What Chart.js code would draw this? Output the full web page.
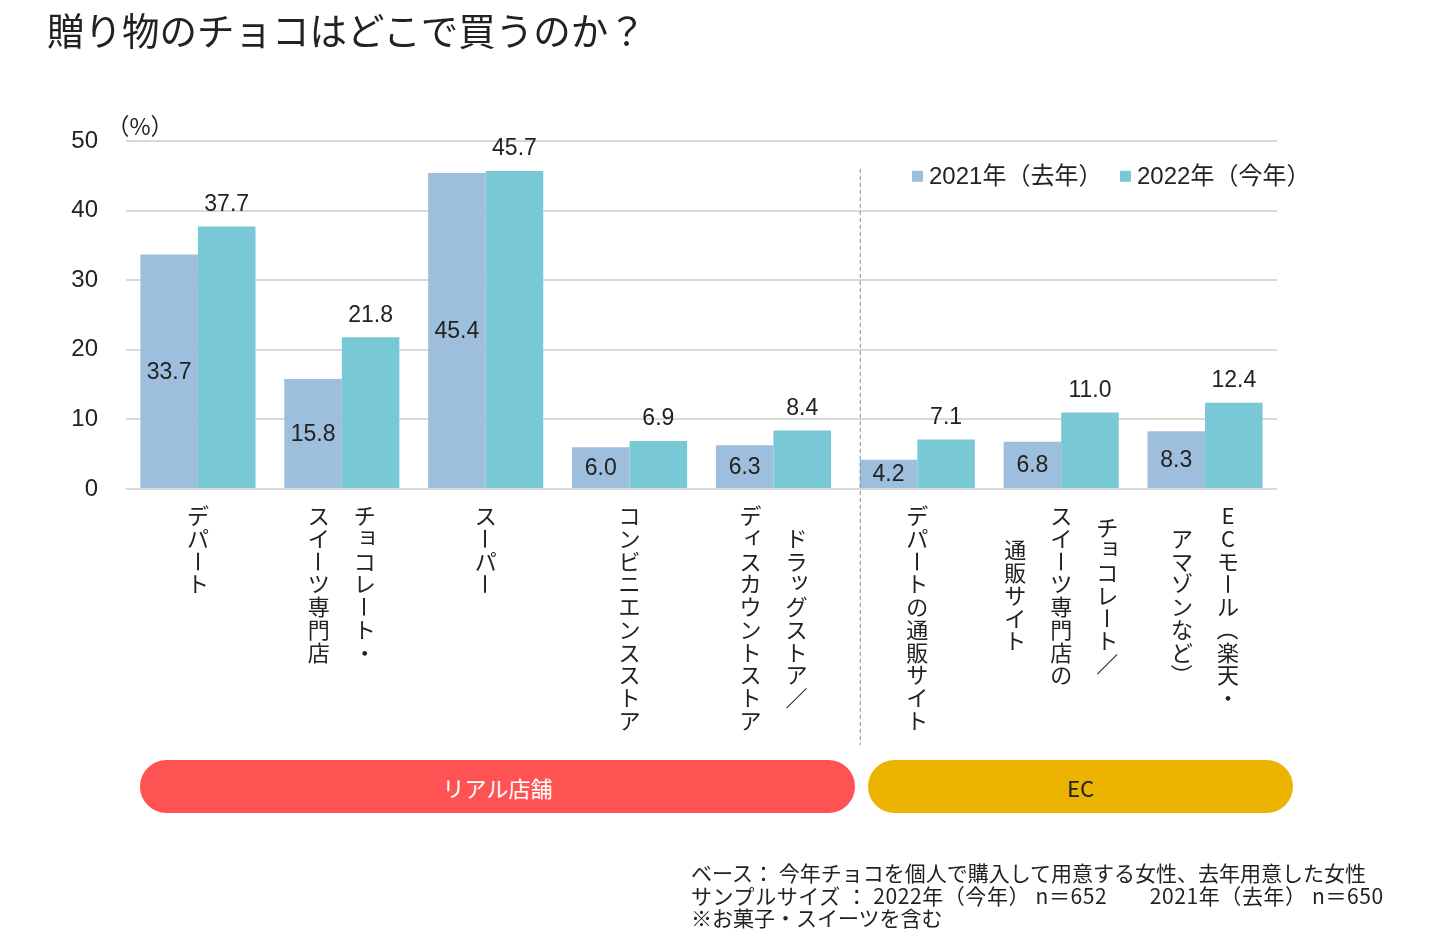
<!DOCTYPE html>
<html lang="ja">
<head>
<meta charset="utf-8">
<title>贈り物のチョコはどこで買うのか？</title>
<script src="https://cdn.jsdelivr.net/npm/chart.js@4/dist/chart.umd.min.js"></script>
<style>
  body { margin: 0; background: #fff; font-family: 'Liberation Sans', 'Noto Sans CJK JP', sans-serif; color: #222; }
  #wrap { position: relative; width: 1445px; height: 948px; overflow: hidden; }
  #chart { position: absolute; left: 0; top: 0; }
  #title { position: absolute; left: 47px; top: 6px; font-size: 37.5px; line-height: 46px; font-family: 'Noto Sans CJK JP', sans-serif; }
  .pill { position: absolute; top: 760px; height: 53px; border-radius: 27px; display: flex; align-items: center; justify-content: center; font-size: 22px; font-family: 'Noto Sans CJK JP', sans-serif; }
  #real { left: 140px; width: 715px; background: #ff5252; color: #fff; }
  #ec { left: 868px; width: 425px; background: #ecb400; color: #222; }
  #note { position: absolute; left: 691px; top: 861px; font-size: 21px; line-height: 22.5px; white-space: pre; font-family: 'Noto Sans CJK JP', sans-serif; }
  #note .wide { letter-spacing: 0.6px; }
</style>
</head>
<body>
<div id="wrap">
  <canvas id="chart" width="1445" height="948"></canvas>
  <div id="title">贈り物のチョコはどこで買うのか？</div>
  <div class="pill" id="real">リアル店舗</div>
  <div class="pill" id="ec">EC</div>
  <div id="note">ベース： 今年チョコを個人で購入して用意する女性、去年用意した女性
<span class="wide">サンプルサイズ ： 2022年（今年） n＝652        2021年（去年） n＝650</span>
※お菓子・スイーツを含む</div>
</div>
<script>
// categories (each entry: vertical columns, right column first)
const categories = [
  ['デパート'],
  ['チョコレート・', 'スイーツ専門店'],
  ['スーパー'],
  ['コンビニエンスストア'],
  ['ドラッグストア／', 'ディスカウントストア'],
  ['デパートの通販サイト'],
  ['チョコレート／', 'スイーツ専門店の', '通販サイト'],
  ['ECモール（楽天・', 'アマゾンなど）']
];
const seriesNames = ['2021年（去年）', '2022年（今年）'];
const values2021 = [33.7, 15.8, 45.4, 6.0, 6.3, 4.2, 6.8, 8.3];
const values2022 = [37.7, 21.8, 45.7, 6.9, 8.4, 7.1, 11.0, 12.4];
const yTicks = [0, 10, 20, 30, 40, 50];
const firstEcIndex = 5;

const COLOR_2021 = '#9dbedd';
const COLOR_2022 = '#78c8d6';
const TEXT = '#222';
const NUM_FONT = "'Liberation Sans', 'Noto Sans CJK JP', sans-serif";
const JP_FONT = "'Noto Sans CJK JP', sans-serif";

const rotateChars = 'ー（）';
const smallKana = 'ァィゥェォッャュョ';

// draws one vertical column of text, char by char
function drawVertical(ctx, text, x, y, step) {
  for (const ch of text) {
    ctx.save();
    if (rotateChars.includes(ch)) {
      ctx.translate(x, y);
      ctx.rotate(Math.PI / 2);
      ctx.fillText(ch, 0, 0);
    } else if (smallKana.includes(ch)) {
      ctx.fillText(ch, x + 3, y - 4);
    } else {
      ctx.fillText(ch, x, y);
    }
    ctx.restore();
    y += step;
  }
}

const extras = {
  id: 'extras',
  afterDatasetsDraw(chart) {
    const ctx = chart.ctx;
    const xs = chart.scales.x;
    const ys = chart.scales.y;
    const m0 = chart.getDatasetMeta(0);
    const m1 = chart.getDatasetMeta(1);

    // value labels
    ctx.save();
    ctx.fillStyle = TEXT;
    ctx.font = '23px ' + NUM_FONT;
    ctx.textAlign = 'center';
    ctx.textBaseline = 'middle';
    m0.data.forEach((bar, i) => {
      ctx.fillText(values2021[i].toFixed(1), bar.x, (bar.y + bar.base) / 2 + 1);
    });
    m1.data.forEach((bar, i) => {
      ctx.fillText(values2022[i].toFixed(1), bar.x, bar.y - 22);
    });
    ctx.restore();

    // (%) unit label
    ctx.save();
    ctx.fillStyle = TEXT;
    ctx.font = '23px ' + JP_FONT;
    ctx.textAlign = 'center';
    ctx.textBaseline = 'middle';
    ctx.fillText('（%）', xs.left + 14, ys.getPixelForValue(50) - 15);
    ctx.restore();

    // vertical category labels
    ctx.save();
    ctx.fillStyle = TEXT;
    ctx.font = '22px ' + JP_FONT;
    ctx.textAlign = 'center';
    ctx.textBaseline = 'middle';
    const step = 22.7, colGap = 46;
    const top = ys.getPixelForValue(0) + 27;
    categories.forEach((cols, i) => {
      const cx = xs.getPixelForValue(i);
      const maxLen = Math.max(...cols.map(c => [...c].length));
      cols.forEach((col, j) => {
        const x = cx + (cols.length - 1) / 2 * colGap - j * colGap;
        const off = (maxLen - [...col].length) * step / 2;
        drawVertical(ctx, col, x, top + off, step);
      });
    });
    ctx.restore();

    // dashed separator before EC group
    const sepX = m0.data[firstEcIndex].x - m0.data[firstEcIndex].width / 2;
    ctx.save();
    ctx.strokeStyle = '#8a8a8a';
    ctx.lineWidth = 1;
    ctx.setLineDash([4, 3]);
    ctx.beginPath();
    ctx.moveTo(sepX + 0.5, ys.getPixelForValue(46));
    ctx.lineTo(sepX + 0.5, 745);
    ctx.stroke();
    ctx.restore();

    // legend
    ctx.save();
    ctx.font = '24px ' + NUM_FONT;
    ctx.textBaseline = 'middle';
    let lx = 912;
    const ly = ys.getPixelForValue(45) + 2;
    [COLOR_2021, COLOR_2022].forEach((c, k) => {
      ctx.fillStyle = c;
      ctx.fillRect(lx, ly - 7, 11, 11);
      ctx.fillStyle = TEXT;
      ctx.fillText(seriesNames[k], lx + 17, ly);
      lx += 208;
    });
    ctx.restore();
  }
};

new Chart(document.getElementById('chart'), {
  type: 'bar',
  data: {
    labels: categories.map(c => c.join('')),
    datasets: [
      { label: seriesNames[0], data: values2021, backgroundColor: COLOR_2021, categoryPercentage: 0.8, barPercentage: 1.0 },
      { label: seriesNames[1], data: values2022, backgroundColor: COLOR_2022, categoryPercentage: 0.8, barPercentage: 1.0 }
    ]
  },
  options: {
    responsive: false,
    animation: false,
    devicePixelRatio: 1,
    layout: { padding: { left: 0, top: 141, right: 168, bottom: 459 } },
    plugins: { legend: { display: false }, tooltip: { enabled: false } },
    scales: {
      x: {
        ticks: { display: false },
        grid: { display: false, drawTicks: false },
        border: { display: false },
        afterFit: s => { s.height = 0; }
      },
      y: {
        min: 0,
        max: 50,
        afterBuildTicks: s => { s.ticks = yTicks.map(v => ({ value: v })); },
        afterFit: s => { s.width = 126; },
        ticks: { color: TEXT, font: { size: 24, family: NUM_FONT }, padding: 28 },
        grid: { color: '#d9d9d9', lineWidth: 2, drawTicks: false },
        border: { display: false }
      }
    }
  },
  plugins: [extras]
});
</script>
</body>
</html>
